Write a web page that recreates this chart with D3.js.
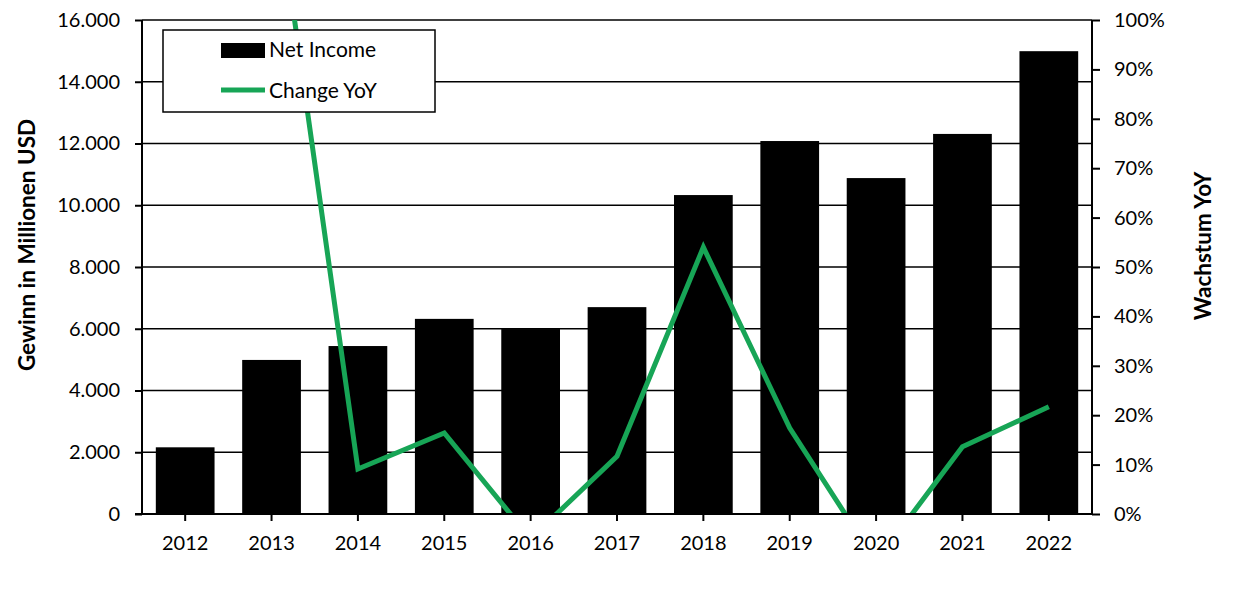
<!DOCTYPE html>
<html>
<head>
<meta charset="utf-8">
<script src="https://cdn.jsdelivr.net/npm/d3@7"></script>
<style>
  body { margin: 0; background: #fff; }
  svg { display: block; font-family: Lato, "Open Sans", sans-serif; }
</style>
</head>
<body>
<div id="chart"></div>
<script>
// Jahre
const years = ["2012", "2013", "2014", "2015", "2016", "2017", "2018", "2019", "2020", "2021", "2022"]
// Net Income (Mio. USD)
const netIncome = [2160, 4990, 5440, 6320, 5990, 6700, 10330, 12080, 10880, 12310, 14990]
// Change YoY (%), 2012 ohne Wert
const changeYoY = [null, 133, 9.1, 16.4, -5, 11.7, 54, 17.4, -9.7, 13.6, 21.7]
// Achsen-Ticks
const leftTicks = [0, 2000, 4000, 6000, 8000, 10000, 12000, 14000, 16000]
const rightTicks = [0, 10, 20, 30, 40, 50, 60, 70, 80, 90, 100]

const W = 1236, H = 591
const margin = { top: 20, right: 144, bottom: 77, left: 142 }
const green = "#17a556"

const svg = d3.select("#chart").append("svg")
  .attr("width", W)
  .attr("height", H)

const x = d3.scaleBand()
  .domain(years)
  .range([margin.left, W - margin.right])
  .paddingInner(0.32)
  .paddingOuter(0.16)

const y = d3.scaleLinear()
  .domain([0, 16000])
  .range([H - margin.bottom, margin.top])

const y2 = d3.scaleLinear()
  .domain([0, 100])
  .range([H - margin.bottom, margin.top])

const fmt = d3.formatLocale({ decimal: ",", thousands: ".", grouping: [3], currency: ["", ""] }).format(",.0f")

// Gitternetz
svg.append("g")
  .selectAll("line")
  .data(leftTicks.slice(1))
  .enter()
  .append("line")
  .attr("x1", margin.left)
  .attr("x2", W - margin.right)
  .attr("y1", (d) => y(d))
  .attr("y2", (d) => y(d))
  .attr("stroke", "#000")
  .attr("stroke-width", 1.5)

// Balken
svg.append("g")
  .selectAll("rect")
  .data(netIncome)
  .enter()
  .append("rect")
  .attr("x", (d, i) => x(years[i]))
  .attr("y", (d) => y(d))
  .attr("width", x.bandwidth())
  .attr("height", (d) => y(0) - y(d))
  .attr("fill", "#000")

// Linie, auf Plotbereich beschnitten
svg.append("clipPath")
  .attr("id", "plot-clip")
  .append("rect")
  .attr("x", margin.left)
  .attr("y", margin.top)
  .attr("width", W - margin.left - margin.right)
  .attr("height", H - margin.top - margin.bottom)

const line = d3.line()
  .defined((d) => d != null)
  .x((d, i) => x(years[i]) + x.bandwidth() / 2)
  .y((d) => y2(d))

svg.append("path")
  .datum(changeYoY)
  .attr("clip-path", "url(#plot-clip)")
  .attr("d", line)
  .attr("fill", "none")
  .attr("stroke", green)
  .attr("stroke-width", 5)
  .attr("stroke-linejoin", "miter")

// Linke Achse
const leftAxis = svg.append("g")
  .attr("transform", `translate(${margin.left},0)`)
  .call(d3.axisLeft(y).tickValues(leftTicks).tickFormat(fmt).tickSize(7).tickPadding(15))
leftAxis.select(".domain").attr("stroke-width", 2).attr("d", `M0,${y(0)}V${y(16000)}`)

// Rechte Achse
const rightAxis = svg.append("g")
  .attr("transform", `translate(${W - margin.right},0)`)
  .call(d3.axisRight(y2).tickValues(rightTicks).tickFormat((d) => `${d}%`).tickSize(8).tickPadding(14))
rightAxis.select(".domain").attr("stroke-width", 2).attr("d", `M0,${y2(0)}V${y2(100)}`)

// X-Achse
const xAxis = svg.append("g")
  .attr("transform", `translate(0,${H - margin.bottom})`)
  .call(d3.axisBottom(x).tickSize(7).tickPadding(15))
xAxis.select(".domain").attr("stroke-width", 2).attr("d", `M${margin.left - 7},0H${W - margin.right}`)

// Schrift der Achsen vereinheitlichen
svg.selectAll(".tick").each(function () { d3.select(this.parentNode).attr("font-family", null).attr("font-size", null) })
svg.selectAll(".tick line").attr("stroke-width", 2)
svg.selectAll(".tick text").attr("font-size", 20).attr("fill", "#000")

// Achsentitel
svg.append("text")
  .text("Gewinn in Millionen USD")
  .attr("transform", "translate(27,245) rotate(-90)")
  .attr("text-anchor", "middle")
  .attr("dy", "0.35em")
  .attr("font-size", 22.5)
  .attr("font-weight", "bold")

svg.append("text")
  .text("Wachstum YoY")
  .attr("transform", "translate(1203,246) rotate(-90)")
  .attr("text-anchor", "middle")
  .attr("dy", "0.35em")
  .attr("font-size", 22.5)
  .attr("font-weight", "bold")

// Legende
const legend = svg.append("g").attr("transform", "translate(163,30)")
legend.append("rect")
  .attr("width", 272)
  .attr("height", 82)
  .attr("fill", "#fff")
  .attr("stroke", "#000")
  .attr("stroke-width", 1.5)
legend.append("rect")
  .attr("x", 58)
  .attr("y", 13)
  .attr("width", 44)
  .attr("height", 15)
  .attr("fill", "#000")
legend.append("line")
  .attr("x1", 58)
  .attr("x2", 102)
  .attr("y1", 60)
  .attr("y2", 60)
  .attr("stroke", green)
  .attr("stroke-width", 5)
legend.append("text")
  .text("Net Income")
  .attr("x", 106)
  .attr("y", 20)
  .attr("dy", "0.35em")
  .attr("font-size", 21)
legend.append("text")
  .text("Change YoY")
  .attr("x", 106)
  .attr("y", 61)
  .attr("dy", "0.35em")
  .attr("font-size", 21)
</script>
</body>
</html>
